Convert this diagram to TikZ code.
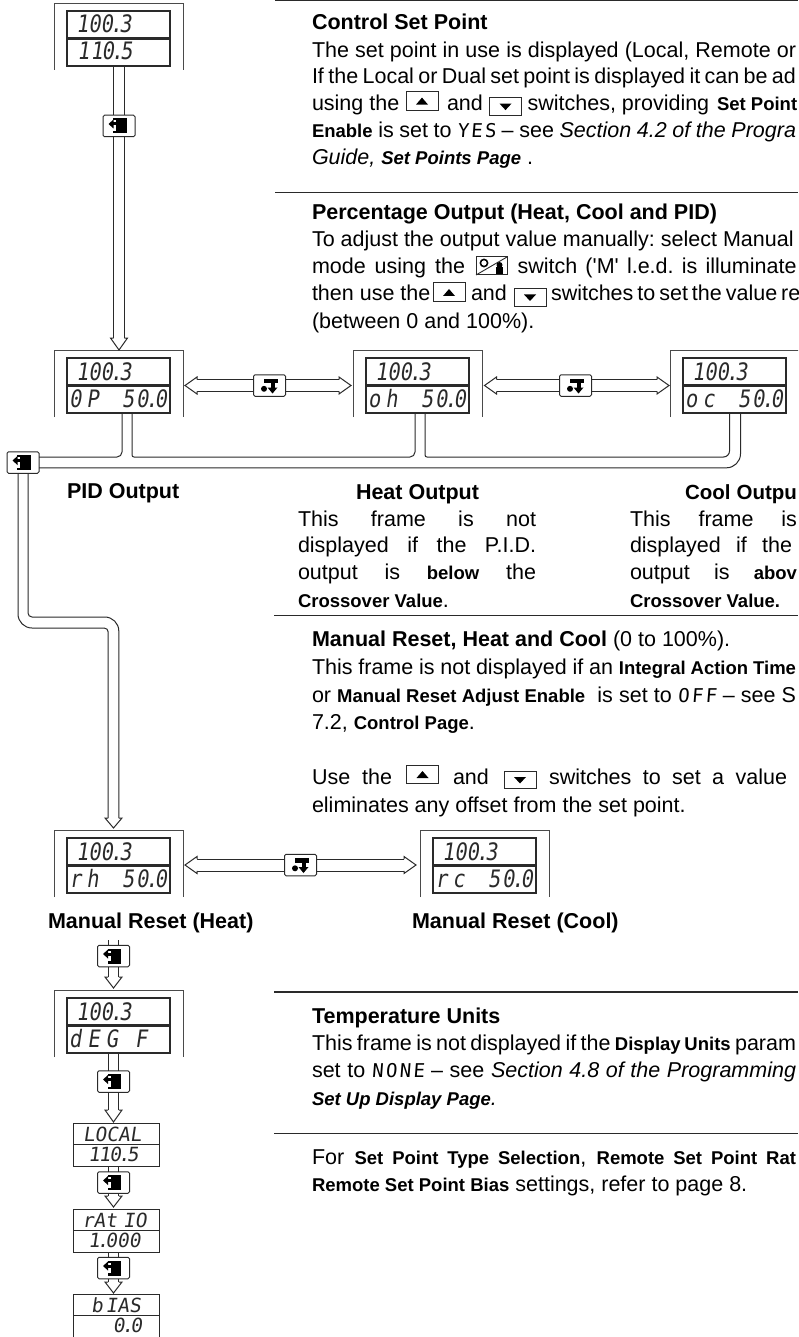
\documentclass[tikz,border=0pt]{standalone}
\usepackage{fontspec}
\setmainfont{Liberation Sans}
\newfontfamily\plainf{Liberation Sans}[Ligatures=NoCommon]
\newfontfamily\segf{DejaVu Sans Mono}[FakeSlant=0.15,FakeStretch=0.85]
\newfontfamily\segg{DejaVu Sans Mono}[FakeSlant=0.15]
\newfontfamily\segn{DejaVu Sans Mono}[FakeSlant=0.08,LetterSpace=12]
\newcommand\bodyf{\fontsize{21.5}{26}\selectfont\frenchspacing}
\newcommand\sbf[1]{{\bfseries\fontsize{18.5}{22}\selectfont #1}}
\newcommand\sgn[1]{{\segn\fontsize{19}{22}\selectfont #1}}
\newcommand\dtt{\kern-3pt.\kern-3pt}
\newcommand\sq{{\plainf\symbol{39}}}
\newcounter{tn}
\definecolor{ink}{HTML}{2A2A2A}
\tikzset{
  every node/.style={inner sep=0pt,outer sep=0pt},
  txt/.style={anchor=base west,font=\bodyf,text=black},
  hd/.style={anchor=base west,font=\bodyf\bfseries,text=black},
  thinl/.style={line width=1pt,draw=ink},
  framel/.style={line width=1pt,draw=ink!85},
  rulel/.style={line width=1.2pt,draw=ink},
  conn/.style={line width=1pt,draw=ink},
  bigbox/.style={draw=ink,line width=2.2pt,minimum width=103pt,minimum height=55pt},
  smallbox/.style={draw=ink,line width=1pt,minimum width=86pt,minimum height=43pt},
  btn/.style={draw=ink,line width=1pt,fill=white,rounded corners=1.5pt,minimum width=32pt,minimum height=21.5pt},
  sega/.style={anchor=base west,font=\segf\fontsize{24}{26}\selectfont,text=ink},
  segs/.style={anchor=base west,font=\segg\fontsize{19.5}{22}\selectfont,text=ink},
  pagekey/.pic={
    \fill[black] (-3,-7.5) rectangle (7.5,7.5);
    \fill[black] (-6,-7.5) rectangle (7.5,-5.5);
    \fill[black] (-6,5) rectangle (7.5,7.5);
    \fill[black] (-6,-3.5) rectangle (-2,-0.5);
    \fill[black] (-10.5,-2) -- (-5.5,-6.5) -- (-5.5,2.5) -- cycle;
  },
  scrollkey/.pic={
    \fill[black] (-6,-7) rectangle (8,-2.5);
    \fill[black] (1,-3) rectangle (5.5,2);
    \fill[black] (-2,2) -- (8,2) -- (3,8) -- cycle;
    \fill[black] (-5.5,3.3) circle (3);
  },
  upkey/.pic={
    \draw[line width=1pt,draw=ink] (0,0) rectangle (32,18.5);
    \fill[black] (10,13) -- (22,13) -- (16,6) -- cycle;
  },
  downkey/.pic={
    \draw[line width=1pt,draw=ink] (0,0) rectangle (32,17.5);
    \fill[black] (10,6) -- (22,6) -- (16,12.5) -- cycle;
  },
  makey/.pic={
    \draw[line width=1pt,draw=ink] (0,0) rectangle (31,18);
    \draw[line width=.9pt,draw=ink] (0,18) -- (31,0);
    \draw[line width=1.6pt,draw=black] (8,6) circle (3.6);
    \fill[black] (20,10) rectangle (27,17.5);
    \fill[black] (23.5,8) circle (3);
  }
}
\newcommand\TL[3]{\stepcounter{tn}\node[txt] (tx\arabic{tn}) at (312,#1) {\ifx\relax#2\relax#3\else\makebox[#2pt][s]{#3}\fi};}
\newcommand\TX[4]{\stepcounter{tn}\node[txt] (tx\arabic{tn}) at (#1,#2) {\ifx\relax#3\relax#4\else\makebox[#3pt][s]{#4}\fi};}
\newcommand\HD[3]{\stepcounter{tn}\node[hd] (tx\arabic{tn}) at (#1,#2) {#3};}
\newcommand\bigd[5]{%
  \node[bigbox] (#1) at (#2+51.5,#3+27.5) {};
  \draw[line width=2.2pt,draw=ink] (#1.west) -- (#1.east);
  \draw[framel] (#2-12.5,#3+59) -- (#2-12.5,#3-7.5) -- (#2+116,#3-7.5) -- (#2+116,#3+59);
  \node[sega] (#1a) at (#2+9,#3+22) {#4};
  \node[sega] (#1b) at (#2+2,#3+49) {\hbox to 98pt{#5}};
}
\newcommand\smalld[5]{%
  \node[smallbox] (#1) at (116,#2+21.5) {};
  \draw[thinl] (#1.west) -- (#1.east);
  \node[segs] (#1a) at (#4,#2+18) {#3};
  \node[segs] (#1b) at (87,#2+38.5) {\hbox to 70pt{#5}};
}
\newcommand\vh[2]{\draw[conn,fill=white] ([xshift=-5.3pt,yshift=#2]#1) -- ([xshift=-8.5pt,yshift=#2]#1) -- (#1) -- ([xshift=8.5pt,yshift=#2]#1) -- ([xshift=5.3pt,yshift=#2]#1);}
\newcommand\hh[2]{\draw[conn,fill=white] ([yshift=-5.8pt,xshift=#2]#1) -- ([yshift=-8.5pt,xshift=#2]#1) -- (#1) -- ([yshift=8.5pt,xshift=#2]#1) -- ([yshift=5.8pt,xshift=#2]#1);}
\begin{document}
\begin{tikzpicture}[x=1pt,y=-1pt]
\useasboundingbox (0,0) rectangle (798,1337);
\clip (0,0) rectangle (798,1337);
\fill[white] (0,0) rectangle (798,1337);
% rules
\coordinate (r0a) at (275,0.6); \coordinate (r0b) at (798,0.6);
\coordinate (r1a) at (275,192.5); \coordinate (r1b) at (798,192.5);
\coordinate (r2a) at (274,615.6); \coordinate (r2b) at (798,615.6);
\coordinate (r3a) at (274,992); \coordinate (r3b) at (798,992);
\coordinate (r4a) at (274,1133.5); \coordinate (r4b) at (798,1133.5);
\draw[rulel] (r0a) -- (r0b); \draw[rulel] (r1a) -- (r1b); \draw[rulel] (r2a) -- (r2b); \draw[rulel] (r3a) -- (r3b); \draw[rulel] (r4a) -- (r4b);
% displays
\bigd{d0}{67}{11}{100\dtt 3}{\kern8pt 1\kern1pt 1\kern-1pt 0\dtt 5\hfill}
\bigd{dp}{67}{358}{100\dtt 3}{0\kern5pt P\hfill 5\kern2pt 0\dtt 0}
\bigd{dh}{366}{358}{100\dtt 3}{o\kern5pt h\hfill 5\kern2pt 0\dtt 0}
\bigd{dc}{683}{358}{100\dtt 3}{o\kern5pt c\hfill 5\kern2pt 0\dtt 0}
\bigd{mh}{67}{838}{100\dtt 3}{r\kern5pt h\hfill 5\kern2pt 0\dtt 0}
\bigd{mc}{433}{838}{100\dtt 3}{r\kern5pt c\hfill 5\kern2pt 0\dtt 0}
\bigd{dt}{67}{998}{100\dtt 3}{d\kern6pt E\kern6pt G\kern17pt F\hfill}
\smalld{sl}{1123}{LOCAL}{83}{\kern1pt 1\kern-1pt 1\kern-1pt 0\dtt 5\hfill}
\smalld{sr}{1209}{rAt\kern6pt IO}{82}{\kern1pt 1\dtt 000\hfill}
\smalld{sb}{1294}{b\kern3pt IAS}{91}{\hfill 0\dtt 0\kern15pt}
% buttons
\node[btn] (b1) at (119,126) {};
\node[btn] (b2) at (23,462.5) {};
\node[btn] (b3) at (269.5,385.5) {};
\node[btn] (b4) at (575.5,385.5) {};
\node[btn] (b5) at (300.5,865) {};
\node[btn] (b6) at (113.5,956) {};
\node[btn] (b7) at (113.5,1081.5) {};
\node[btn] (b8) at (113.5,1182.5) {};
\node[btn] (b9) at (113.5,1268) {};
\foreach \b in {b1,b2,b6,b7,b8,b9} {\pic at (\b) {pagekey};}
\foreach \b in {b3,b4,b5} {\pic at (\b) {scrollkey};}
% tips
\coordinate (t1) at (119,350);
\coordinate (t2) at (113.5,828);
\coordinate (t3) at (113.5,988);
\coordinate (t4) at (113.5,1122);
\coordinate (t5) at (113.5,1207);
\coordinate (t6) at (113.5,1293);
\coordinate (s6) at (113.5,940);
\coordinate (hl1) at (185,385.5); \coordinate (hr1) at (351,385.5);
\coordinate (hl2) at (484.5,385.5); \coordinate (hr2) at (669,385.5);
\coordinate (hl3) at (185,865); \coordinate (hr3) at (416,865);
\foreach \s in {-5.3,5.3} {
  \draw[conn] ([xshift=\s pt]b1.north |- d0.south) -- ([xshift=\s pt]b1.north);
  \draw[conn] ([xshift=\s pt]b1.south) -- ([xshift=\s pt,yshift=12pt]t1);
  \draw[conn] ([xshift=\s pt]b6.south) -- ([xshift=\s pt,yshift=11pt]t3);
  \draw[conn] ([xshift=\s pt]s6) -- ([xshift=\s pt]b6.north);
  \draw[conn] ([xshift=\s pt]b7.south) -- ([xshift=\s pt,yshift=12pt]t4);
  \draw[conn] ([xshift=\s pt]b7.north |- dt.south) -- ([xshift=\s pt]b7.north);
  \draw[conn] ([xshift=\s pt]b8.north |- sl.south) -- ([xshift=\s pt]b8.north);
  \draw[conn] ([xshift=\s pt]b8.south) -- ([xshift=\s pt,yshift=11pt]t5);
  \draw[conn] ([xshift=\s pt]b9.north |- sr.south) -- ([xshift=\s pt]b9.north);
  \draw[conn] ([xshift=\s pt]b9.south) -- ([xshift=\s pt,yshift=11pt]t6);
}
\vh{t1}{12pt}\vh{t2}{10pt}\vh{t3}{11pt}\vh{t4}{12pt}\vh{t5}{11pt}\vh{t6}{11pt}
\foreach \s in {-6,6} {
  \draw[conn] ([yshift=\s pt,xshift=12pt]hl1) -- ([yshift=\s pt]b3.west);
  \draw[conn] ([yshift=\s pt]b3.east) -- ([yshift=\s pt,xshift=-12pt]hr1);
  \draw[conn] ([yshift=\s pt,xshift=12pt]hl2) -- ([yshift=\s pt]b4.west);
  \draw[conn] ([yshift=\s pt]b4.east) -- ([yshift=\s pt,xshift=-12pt]hr2);
  \draw[conn] ([yshift=\s pt,xshift=12pt]hl3) -- ([yshift=\s pt]b5.west);
  \draw[conn] ([yshift=\s pt]b5.east) -- ([yshift=\s pt,xshift=-12pt]hr3);
}
\hh{hl1}{12pt}\hh{hr1}{-12pt}\hh{hl2}{12pt}\hh{hr2}{-12pt}\hh{hl3}{12pt}\hh{hr3}{-12pt}
% bus
\draw[conn,rounded corners=5pt] (b2.east |- 0,457) -- ([xshift=3.5pt]dp.south |- 0,457) -- ([xshift=3.5pt]dp.south);
\draw[conn] ([xshift=13.5pt]dp.south) [rounded corners=2pt] -- ([xshift=13.5pt]dp.south |- 0,457) [rounded corners=5pt] -- ([xshift=-2.5pt]dh.south |- 0,457) -- ([xshift=-2.5pt]dh.south);
\draw[conn] ([xshift=7.5pt]dh.south) [rounded corners=2pt] -- ([xshift=7.5pt]dh.south |- 0,457) [rounded corners=6pt] -- ([xshift=-5pt]dc.south |- 0,457) -- ([xshift=-5pt]dc.south);
\draw[conn,rounded corners=14pt] (b2.east |- 0,467.8) -- ([xshift=6pt]dc.south |- 0,467.8) -- ([xshift=6pt]dc.south);
% drop to manual reset
\draw[conn] ([xshift=-5pt]b2.south) [rounded corners=14pt] -- ([xshift=-5pt]b2.south |- 0,628) [rounded corners=4pt] -- ([xshift=-5.3pt]t2 |- 0,628) -- ([xshift=-5.3pt,yshift=10pt]t2);
\draw[conn] ([xshift=5pt]b2.south) [rounded corners=4pt] -- ([xshift=5pt]b2.south |- 0,617) [rounded corners=14pt] -- ([xshift=5.3pt]t2 |- 0,617) -- ([xshift=5.3pt,yshift=10pt]t2);
% keys
\pic at (406,91.6) {upkey};
\pic at (489.5,97.6) {downkey};
\pic at (476,257) {makey};
\pic at (433,283) {upkey};
\pic at (514,288.5) {downkey};
\pic at (406.5,765) {upkey};
\pic at (504,771) {downkey};
% texts
\HD{312}{30}{Control Set Point}
\TL{58}{484}{The set point in use is displayed (Local, Remote or}
\TL{84}{484}{If the Local or Dual set point is displayed it can be ad}
\TL{111}{}{using the}
\TX{447}{111}{}{and}
\TX{527.6}{111}{}{switches, providing}
\TX{717}{111}{}{\sbf{Set Point}}
\TL{138}{484}{\sbf{Enable} is set to \sgn{YES} -- see \textit{Section 4.2 of the Progra}}
\TL{165}{}{\textit{Guide,} \sbf{\itshape Set Points Page} .}
\HD{312}{220}{Percentage Output (Heat, Cool and PID)}
\TL{247}{}{To adjust the output value manually: select Manual}
\TL{274}{153}{mode using the}
\TX{517.5}{274}{279}{switch (\sq M\sq{} l.e.d. is illuminate}
\TL{301}{}{then use the}
\TX{471}{301}{}{and}
\TX{551}{301}{246}{switches to set the value re}
\TL{328}{}{(between 0 and 100\%).}
\HD{67}{498}{PID Output}
\HD{356}{499}{Heat Output}
\HD{685}{499}{\makebox[112pt][s]{\fontsize{20.5}{26}\selectfont Cool Outpu}}
\TX{298}{526}{238}{This frame is not}
\TX{298}{552.5}{238}{displayed if the P.I.D.}
\TX{298}{579.5}{238}{output is \sbf{below} the}
\TX{298}{607}{}{\sbf{Crossover Value}.}
\TX{630}{526}{167}{This frame is}
\TX{630}{552.5}{162}{displayed if the}
\TX{630}{579.5}{167}{output is \sbf{abov}}
\TX{630}{607}{}{\sbf{Crossover Value.}}
\TL{646}{}{\textbf{Manual Reset, Heat and Cool} (0 to 100\%).}
\TL{674}{484}{This frame is not displayed if an \sbf{Integral Action Time}}
\TL{702}{484}{or \sbf{Manual Reset Adjust Enable}\ \ is set to \sgn{OFF} -- see S}
\TL{729.5}{}{7.2, \sbf{Control Page}.}
\TL{784.5}{80}{Use the}
\TX{453}{784.5}{}{and}
\TX{549}{784.5}{238}{switches to set a value}
\TL{812}{}{eliminates any offset from the set point.}
\HD{48}{928}{Manual Reset (Heat)}
\HD{412}{928}{Manual Reset (Cool)}
\HD{312}{1023}{Temperature Units}
\TL{1050}{484}{This frame is not displayed if the \sbf{Display Units} param}
\TL{1077}{484}{set to \sgn{NONE} -- see \textit{Section 4.8 of the Programming}}
\TL{1105}{}{\sbf{\itshape Set Up Display Page}\textit{.}}
\TL{1164.5}{484}{For \sbf{Set Point Type Selection}, \sbf{Remote Set Point Rat}}
\TL{1191}{}{\sbf{Remote Set Point Bias} settings, refer to page 8.}
\end{tikzpicture}
\end{document}
